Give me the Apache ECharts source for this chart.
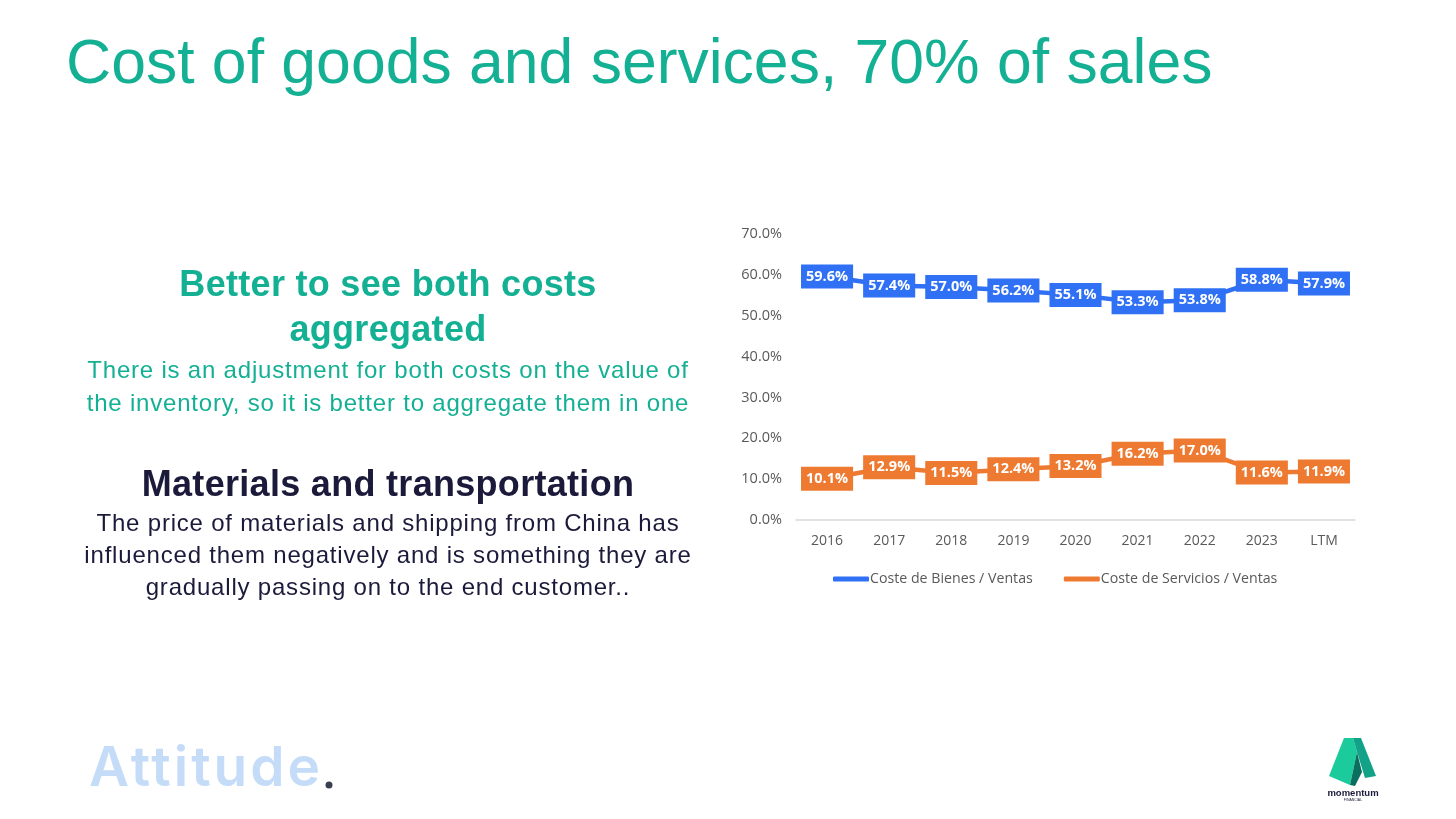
<!DOCTYPE html>
<html>
<head>
<meta charset="utf-8">
<script src="https://cdn.jsdelivr.net/npm/echarts@6/dist/echarts.min.js"></script>
<style>
  html, body { margin: 0; padding: 0; background: #fff; }
  #slide { position: relative; width: 1456px; height: 819px; overflow: hidden; font-family: "Liberation Sans", Arial, sans-serif; }
  #main { position: absolute; left: 0; top: 0; width: 1456px; height: 819px; }
  .txt { position: absolute; text-align: center; white-space: nowrap; }
  h1 { position: absolute; left: 66px; top: 25px; margin: 0; font-weight: 400; font-size: 62.5px; color: #14b094; white-space: nowrap; }
  .head { font-weight: 700; font-size: 36px; line-height: 45px; letter-spacing: 0.3px; }
  .body { font-size: 24px; letter-spacing: 0.8px; }
  #attitude { position: absolute; left: 89px; top: 734px; font-family: "Inter", sans-serif; font-weight: 600; font-size: 55px; letter-spacing: 3px; color: #c5dcf8; line-height: 64px; }
</style>
</head>
<body>
<div id="slide">
  <div id="main"></div>
  <h1>Cost of goods and services, 70% of sales</h1>
  <div class="txt" style="left:68px; top:261px; width:640px; color:#14b094;">
    <div class="head">Better to see both costs<br>aggregated</div>
    <div class="body" style="line-height:33px; margin-top:2px">There is an adjustment for both costs on the value of<br>the inventory, so it is better to aggregate them in one</div>
  </div>
  <div class="txt" style="left:68px; top:461px; width:640px; color:#1b1a3a;">
    <div class="head">Materials and transportation</div>
    <div class="body" style="line-height:32px; margin-top:1px">The price of materials and shipping from China has<br>influenced them negatively and is something they are<br>gradually passing on to the end customer..</div>
  </div>
  <div id="attitude">Attitude</div>
</div>
<script>
// datos
var years = ["2016", "2017", "2018", "2019", "2020", "2021", "2022", "2023", "LTM"];
var costeBienes = [59.6, 57.4, 57.0, 56.2, 55.1, 53.3, 53.8, 58.8, 57.9];
var costeServicios = [10.1, 12.9, 11.5, 12.4, 13.2, 16.2, 17.0, 11.6, 11.9];
var yTicks = [0, 10, 20, 30, 40, 50, 60, 70];

var blue = "#2f70f4";
var orange = "#ee7a31";
var chartFont = "Open Sans, sans-serif";

function boxLabel(color) {
  return {
    show: true,
    position: "inside",
    formatter: function (p) { return p.value.toFixed(1) + "%"; },
    color: "#fff",
    fontWeight: "bold",
    fontSize: 14.5,
    fontFamily: chartFont,
    backgroundColor: color,
    padding: [5, 5, 4, 5]
  };
}

var myChart = echarts.init(document.getElementById("main"));
var option = {
  animation: false,
  grid: { left: 796, top: 234, width: 559, height: 286, containLabel: false },
  xAxis: {
    type: "category",
    data: years,
    axisLine: { lineStyle: { color: "#d9d9d9", width: 1.5 } },
    axisTick: { show: false },
    axisLabel: { color: "#595959", fontSize: 14, margin: 14, fontFamily: chartFont }
  },
  yAxis: {
    type: "value",
    min: yTicks[0],
    max: yTicks[yTicks.length - 1],
    interval: 10,
    splitLine: { show: false },
    axisLine: { show: false },
    axisLabel: {
      color: "#595959",
      fontSize: 14.5,
      margin: 14,
      fontFamily: chartFont,
      formatter: function (v) { return v.toFixed(1) + "%"; }
    }
  },
  legend: {
    left: 828,
    top: 567,
    itemWidth: 36,
    itemHeight: 5,
    itemGap: 31,
    icon: "roundRect",
    textStyle: { color: "#595959", fontSize: 14.2, fontFamily: chartFont, padding: [0, 0, 0, -4] },
    data: ["Coste de Bienes / Ventas", "Coste de Servicios / Ventas"]
  },
  series: [
    {
      name: "Coste de Bienes / Ventas",
      type: "line",
      data: costeBienes,
      symbol: "circle",
      symbolSize: 1,
      lineStyle: { color: blue, width: 4.5 },
      itemStyle: { color: blue },
      label: boxLabel(blue)
    },
    {
      name: "Coste de Servicios / Ventas",
      type: "line",
      data: costeServicios,
      symbol: "circle",
      symbolSize: 1,
      lineStyle: { color: orange, width: 4.5 },
      itemStyle: { color: orange },
      label: boxLabel(orange)
    }
  ],
  graphic: [
    {
      type: "circle",
      shape: { cx: 329, cy: 785, r: 3.5 },
      style: { fill: "#3a3f4f" }
    },
    {
      type: "group",
      x: 1329,
      y: 738,
      children: [
        { type: "polygon", shape: { points: [[0, 38], [15, 0], [24, 0], [28, 14], [21, 47]] }, style: { fill: "#1ccb9c" } },
        { type: "polygon", shape: { points: [[24, 0], [32, 0], [47, 38], [36, 40], [28, 14]] }, style: { fill: "#12a287" } },
        { type: "polygon", shape: { points: [[21, 47], [28, 14], [33, 34], [26, 48]] }, style: { fill: "#0a6f5f" } },
        { type: "text", x: 24, y: 50, style: { text: "momentum", fill: "#1b1a3a", font: "bold 9.5px 'Liberation Sans', sans-serif", textAlign: "center" } },
        { type: "text", x: 24, y: 60, style: { text: "FINANCIAL", fill: "#1b1a3a", font: "3.5px 'Liberation Sans', sans-serif", textAlign: "center" } }
      ]
    }
  ]
};
myChart.setOption(option);
</script>
</body>
</html>
